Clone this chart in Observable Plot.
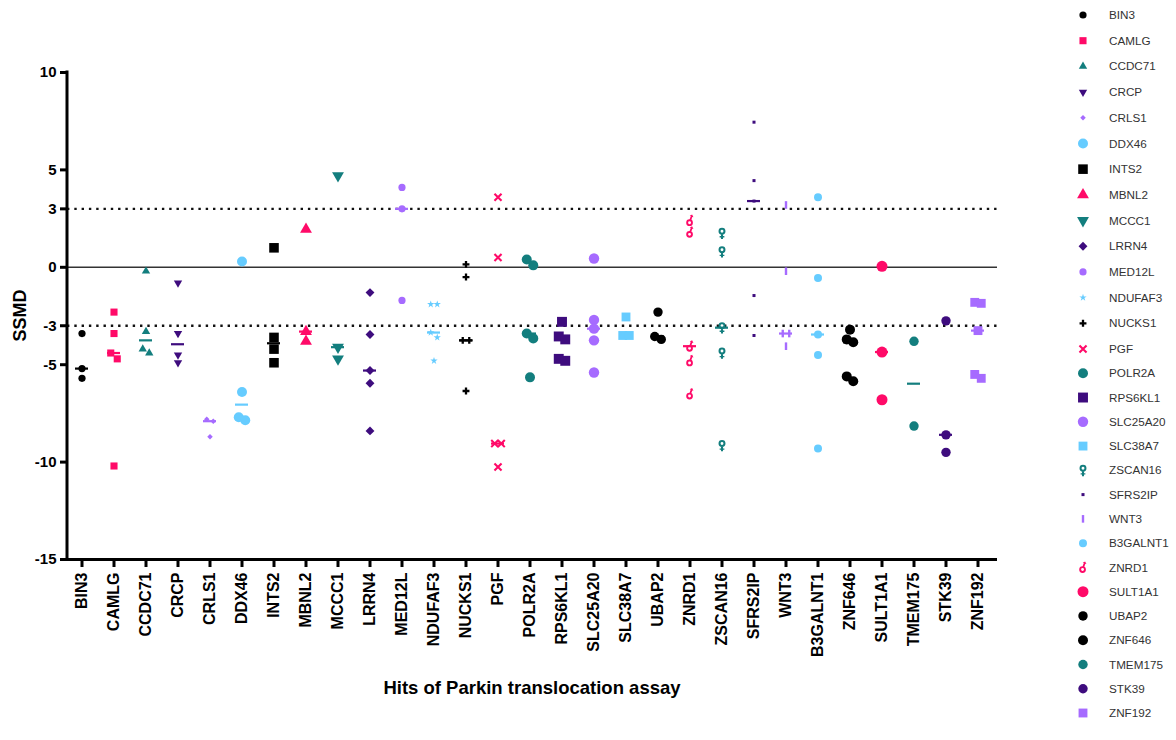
<!DOCTYPE html>
<html>
<head>
<meta charset="utf-8">
<script src="https://cdn.jsdelivr.net/npm/d3@7"></script>
<script src="https://cdn.jsdelivr.net/npm/@observablehq/plot@0.6"></script>
<style>
  body { margin: 0; background: #fff; }
  #chart svg { display: block; }
</style>
</head>
<body>
<div id="chart"></div>
<script>
// Genes along the x axis
const genes = ["BIN3","CAMLG","CCDC71","CRCP","CRLS1","DDX46","INTS2","MBNL2","MCCC1","LRRN4",
  "MED12L","NDUFAF3","NUCKS1","PGF","POLR2A","RPS6KL1","SLC25A20","SLC38A7","UBAP2","ZNRD1",
  "ZSCAN16","SFRS2IP","WNT3","B3GALNT1","ZNF646","SULT1A1","TMEM175","STK39","ZNF192"];
// Order of the entries in the legend
const legendOrder = ["BIN3","CAMLG","CCDC71","CRCP","CRLS1","DDX46","INTS2","MBNL2","MCCC1","LRRN4",
  "MED12L","NDUFAF3","NUCKS1","PGF","POLR2A","RPS6KL1","SLC25A20","SLC38A7","ZSCAN16","SFRS2IP",
  "WNT3","B3GALNT1","ZNRD1","SULT1A1","UBAP2","ZNF646","TMEM175","STK39","ZNF192"];
const yTicks = [-15, -10, -5, -3, 0, 3, 5, 10];
const cutoffs = [-3, 3];
const xTitle = "Hits of Parkin translocation assay";
const yTitle = "SSMD";

// SSMD of each siRNA replicate
const BIN3 = [-3.4, -5.2, -5.7];
const CAMLG = [-2.3, -3.4, -4.4, -4.7, -10.2];
const CCDC71 = [-0.2, -3.3, -4.2, -4.4];
const CRCP = [-0.8, -3.4, -4.5, -4.9];
const CRLS1 = [-7.8, -7.9, -8.7];
const DDX46 = [0.3, -6.4, -7.7, -7.85];
const INTS2 = [1.0, -3.6, -4.2, -4.9];
const MBNL2 = [1.95, -3.3, -3.8];
const MCCC1 = [4.7, -4.1, -4.7];
const LRRN4 = [-1.3, -3.45, -5.3, -5.95, -8.4];
const MED12L = [4.1, 3.0, -1.7];
const NDUFAF3 = [-1.9, -1.9, -3.35, -3.6, -4.8];
const NUCKS1 = [0.15, -0.5, -3.75, -3.75, -6.35];
const PGF = [3.6, 0.5, -9.05, -9.05, -10.25];
const POLR2A = [0.4, 0.1, -3.4, -3.65, -5.65];
const RPS6KL1 = [-2.8, -3.55, -3.7, -4.7, -4.8];
const SLC25A20 = [0.45, -2.7, -3.15, -3.75, -5.4];
const SLC38A7 = [-2.55, -3.5, -3.5];
const UBAP2 = [-2.3, -3.55, -3.7];
const ZNRD1 = [2.4, 1.8, -4.05, -4.8, -6.5];
const ZSCAN16 = [1.75, 0.8, -3.1, -4.4, -9.15];
const SFRS2IP = [7.45, 4.45, 3.4, -1.45, -3.5];
const WNT3 = [3.2, -0.2, -3.4, -3.4, -4.05];
const B3GALNT1 = [3.6, -0.55, -3.45, -4.5, -9.3];
const ZNF646 = [-3.2, -3.7, -3.85, -5.6, -5.85];
const SULT1A1 = [0.05, -4.35, -6.8];
const TMEM175 = [-3.8, -8.15];
const STK39 = [-2.75, -8.6, -9.5];
const ZNF192 = [-1.8, -1.85, -3.25, -5.5, -5.7];

const replicates = {BIN3, CAMLG, CCDC71, CRCP, CRLS1, DDX46, INTS2, MBNL2, MCCC1, LRRN4,
  MED12L, NDUFAF3, NUCKS1, PGF, POLR2A, RPS6KL1, SLC25A20, SLC38A7, UBAP2, ZNRD1,
  ZSCAN16, SFRS2IP, WNT3, B3GALNT1, ZNF646, SULT1A1, TMEM175, STK39, ZNF192};

// ---- symbols ----
const sqrt3 = Math.sqrt(3);
const triangleDown = {
  draw(c, size) {
    const y = -Math.sqrt(size / (sqrt3 * 3));
    c.moveTo(0, -2 * y);
    c.lineTo(-sqrt3 * y, y);
    c.lineTo(sqrt3 * y, y);
    c.closePath();
  }
};
function ring(c, cx, cy, ro, ri) {
  c.moveTo(cx + ro, cy);
  c.arc(cx, cy, ro, 0, 2 * Math.PI);
  c.moveTo(cx + ri, cy);
  c.arc(cx, cy, ri, 0, 2 * Math.PI, true);
}
function poly(c, pts) {
  let a = 0;
  for (let i = 0; i < pts.length; i++) {
    const [x0, y0] = pts[i], [x1, y1] = pts[(i + 1) % pts.length];
    a += x0 * y1 - x1 * y0;
  }
  if (a < 0) pts = pts.slice().reverse();
  c.moveTo(pts[0][0], pts[0][1]);
  for (let i = 1; i < pts.length; i++) c.lineTo(pts[i][0], pts[i][1]);
  c.closePath();
}
const female = {
  draw(c, size) {
    const s = Math.sqrt(size / Math.PI) / 5;
    ring(c, 0, -1.8 * s, 3.1 * s, 1.3 * s);
    poly(c, [[-0.9 * s, 1.2 * s], [0.9 * s, 1.2 * s], [0.9 * s, 5.2 * s], [-0.9 * s, 5.2 * s]]);
    poly(c, [[-2.1 * s, 2.6 * s], [2.1 * s, 2.6 * s], [2.1 * s, 3.8 * s], [-2.1 * s, 3.8 * s]]);
  }
};
const male = {
  draw(c, size) {
    const s = Math.sqrt(size / Math.PI) / 5;
    ring(c, -0.4 * s, 1.9 * s, 3.0 * s, 1.3 * s);
    const nx = 0.93, ny = 0.366, w = 0.8;
    const b = [0.4 * s, -0.8 * s], t = [1.4 * s, -3.6 * s];
    poly(c, [[b[0] - nx * w * s, b[1] - ny * w * s], [b[0] + nx * w * s, b[1] + ny * w * s],
             [t[0] + nx * w * s, t[1] + ny * w * s], [t[0] - nx * w * s, t[1] - ny * w * s]]);
    const h = 1.8;
    poly(c, [[t[0] - nx * h * s, t[1] - ny * h * s], [t[0] + nx * h * s, t[1] + ny * h * s],
             [1.9 * s, -5.3 * s]]);
  }
};
const bar = {
  draw(c, size) {
    const s = Math.sqrt(size / Math.PI) / 5;
    poly(c, [[-1.2 * s, -3.8 * s], [1.2 * s, -3.8 * s], [1.2 * s, 3.8 * s], [-1.2 * s, 3.8 * s]]);
  }
};

// ---- colours ----
const BLACK = "#000000", PINK = "#FF0A68", TEAL = "#137E7E", PURPLE = "#3E0C7E",
      LILAC = "#A66BFF", SKY = "#66CCFF";

const style = {
  BIN3:     {color: BLACK,  symbol: d3.symbolCircle,   r: 3.6},
  CAMLG:    {color: PINK,   symbol: d3.symbolSquare,   r: 4.0},
  CCDC71:   {color: TEAL,   symbol: d3.symbolTriangle, r: 3.1},
  CRCP:     {color: PURPLE, symbol: triangleDown,      r: 3.1},
  CRLS1:    {color: LILAC,  symbol: d3.symbolDiamond2, r: 2.5},
  DDX46:    {color: SKY,    symbol: d3.symbolCircle,   r: 5.0},
  INTS2:    {color: BLACK,  symbol: d3.symbolSquare,   r: 5.4},
  MBNL2:    {color: PINK,   symbol: d3.symbolTriangle, r: 4.4},
  MCCC1:    {color: TEAL,   symbol: triangleDown,      r: 4.4},
  LRRN4:    {color: PURPLE, symbol: d3.symbolDiamond2, r: 4.0},
  MED12L:   {color: LILAC,  symbol: d3.symbolCircle,   r: 3.6},
  NDUFAF3:  {color: SKY,    symbol: d3.symbolStar,     r: 2.3},
  NUCKS1:   {color: BLACK,  symbol: d3.symbolCross,    r: 2.9},
  PGF:      {color: PINK,   symbol: d3.symbolTimes,    r: 3.3, hollow: true},
  POLR2A:   {color: TEAL,   symbol: d3.symbolCircle,   r: 5.0},
  RPS6KL1:  {color: PURPLE, symbol: d3.symbolSquare,   r: 5.6},
  SLC25A20: {color: LILAC,  symbol: d3.symbolCircle,   r: 5.2},
  SLC38A7:  {color: SKY,    symbol: d3.symbolSquare,   r: 5.0},
  UBAP2:    {color: BLACK,  symbol: d3.symbolCircle,   r: 4.7},
  ZNRD1:    {color: PINK,   symbol: male,              r: 5.6},
  ZSCAN16:  {color: TEAL,   symbol: female,            r: 5.6},
  SFRS2IP:  {color: PURPLE, symbol: d3.symbolSquare,   r: 1.7},
  WNT3:     {color: LILAC,  symbol: bar,               r: 5.0},
  B3GALNT1: {color: SKY,    symbol: d3.symbolCircle,   r: 4.0},
  ZNF646:   {color: BLACK,  symbol: d3.symbolCircle,   r: 5.0},
  SULT1A1:  {color: PINK,   symbol: d3.symbolCircle,   r: 5.5},
  TMEM175:  {color: TEAL,   symbol: d3.symbolCircle,   r: 4.7},
  STK39:    {color: PURPLE, symbol: d3.symbolCircle,   r: 4.7},
  ZNF192:   {color: LILAC,  symbol: d3.symbolSquare,   r: 5.0}
};

// Replicates with nearly equal SSMD are set side by side (offset in px)
function spread(vals) {
  const sorted = vals.map((v, i) => ({v, i})).sort((a, b) => b.v - a.v);
  const dx = new Array(vals.length).fill(0);
  let group = [sorted[0]];
  const flush = () => group.forEach((g, k) => dx[g.i] = (k - (group.length - 1) / 2) * 6.5);
  for (let k = 1; k < sorted.length; k++) {
    if (group[group.length - 1].v - sorted[k].v < 0.35) group.push(sorted[k]);
    else { flush(); group = [sorted[k]]; }
  }
  flush();
  return dx;
}

const medians = genes.map(g => ({gene: g, value: d3.median(replicates[g]), color: style[g].color}));

const dotMarks = [];
for (const g of genes) {
  const vals = replicates[g];
  const offs = spread(vals);
  const rows = vals.map((v, i) => ({gene: g, value: v, dx: offs[i]}));
  const s = style[g];
  for (const [dx, sub] of d3.group(rows, d => d.dx)) {
    dotMarks.push(Plot.dot(sub, {
      x: "gene", y: "value", dx,
      symbol: s.symbol, r: s.r,
      fill: s.hollow ? "none" : s.color,
      stroke: s.hollow ? s.color : "none",
      strokeWidth: s.hollow ? 2.1 : 0
    }));
  }
}

const W = 1176, H = 740;
const mLeft = 67, mRight = 179, mTop = 72, mBottom = 181;
const font = "'Liberation Sans', Arial, Helvetica, sans-serif";

const chart = Plot.plot({
  width: W, height: H,
  marginLeft: mLeft, marginRight: mRight, marginTop: mTop, marginBottom: mBottom,
  style: {fontFamily: font, color: "#000", background: "#fff", overflow: "visible"},
  x: {type: "band", domain: genes, paddingInner: 0.6, paddingOuter: 0.2, insetRight: 4.4},
  y: {domain: [-15, 10]},
  color: {type: "identity"},
  marks: [
    Plot.ruleY([0], {stroke: "#333", strokeWidth: 1.6}),
    Plot.ruleY(cutoffs, {stroke: "#111", strokeWidth: 2.4, strokeDasharray: "2.4 4.9"}),
    Plot.tickY(medians, {x: "gene", y: "value", stroke: "color", strokeWidth: 2.2}),
    ...dotMarks,
    Plot.ruleY([-15], {stroke: "#000", strokeWidth: 3}),
    Plot.axisY({ticks: yTicks, tickFormat: d => String(d), tickSize: 7, tickPadding: 4,
      strokeWidth: 3, fontSize: 15, fontWeight: "bold", label: null}),
    Plot.axisX({tickRotate: -90, tickSize: 8, tickPadding: 5, strokeWidth: 3,
      fontSize: 16, fontWeight: "bold", label: null})
  ]
});

const svg = d3.select(chart);
// y axis spine
svg.append("line")
  .attr("x1", mLeft).attr("x2", mLeft)
  .attr("y1", mTop - 1.5).attr("y2", H - mBottom + 1.5)
  .attr("stroke", "#000").attr("stroke-width", 3);

// axis titles
svg.append("text")
  .attr("transform", `translate(20,${(mTop + H - mBottom) / 2}) rotate(-90)`)
  .attr("text-anchor", "middle").attr("dominant-baseline", "central")
  .attr("font-family", font).attr("font-size", 18).attr("font-weight", "bold")
  .attr("fill", "#000").text(yTitle);
svg.append("text")
  .attr("x", (mLeft + W - mRight) / 2).attr("y", 694)
  .attr("text-anchor", "middle")
  .attr("font-family", font).attr("font-size", 18.5).attr("font-weight", "bold")
  .attr("fill", "#000").text(xTitle);

// legend: rows run a little tighter in the lower half of the column
const ly = d3.scaleLinear().domain([0, 13, legendOrder.length - 1]).range([15, 349, 713]);
const lg = svg.append("g")
  .attr("font-family", font).attr("font-size", 11.7).attr("fill", "#333")
  .attr("text-anchor", "start");
legendOrder.forEach((g, i) => {
  const s = style[g];
  const item = lg.append("g").attr("transform", `translate(1083,${ly(i)})`);
  item.append("path")
    .attr("d", d3.symbol(s.symbol, Math.PI * s.r * s.r)())
    .attr("fill", s.hollow ? "none" : s.color)
    .attr("stroke", s.hollow ? s.color : "none")
    .attr("stroke-width", s.hollow ? 2.1 : 0);
  item.append("text").attr("x", 26).attr("dy", "0.35em").attr("text-anchor", "start").text(g);
});

document.getElementById("chart").appendChild(chart);
</script>
</body>
</html>
